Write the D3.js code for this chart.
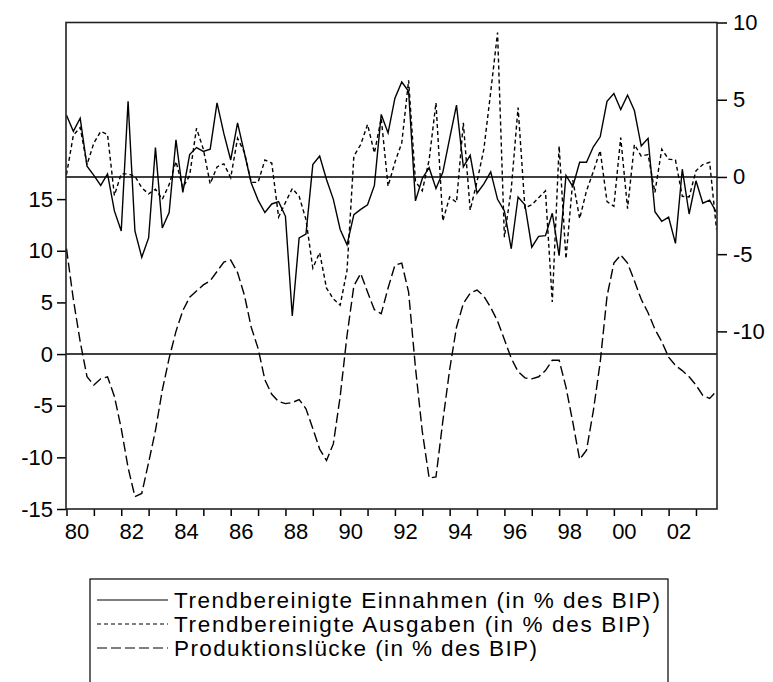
<!doctype html>
<html>
<head>
<meta charset="utf-8">
<title>Einnahmen, Ausgaben, Produktionsluecke</title>
<script src="https://cdn.jsdelivr.net/npm/d3@7/dist/d3.min.js"></script>
<style>
  body{margin:0;padding:0;background:#fff;}
  text{font-family:"Liberation Sans",Arial,sans-serif;fill:#000;}
</style>
</head>
<body>
<script>
// Quartalsdaten 1980Q1 - 2003Q4 (96 Beobachtungen)
var startJahr = 1980;

// Trendbereinigte Einnahmen (rechte Achse)
var einnahmen = [
  4.0, 2.95, 3.8, 0.7, 0.1, -0.55, 0.2, -2.2, -3.5, 4.9,
  -3.5, -5.2, -3.95, 1.9, -3.3, -2.3, 2.4, -1.0, 1.45, 1.9,
  1.65, 1.8, 4.8, 2.8, 1.1, 3.5, 1.55, -0.4, -1.5, -2.3,
  -1.75, -1.6, -2.55, -9.0, -3.95, -3.7, 0.8, 1.35, -0.17, -1.45,
  -3.4, -4.4, -2.44, -2.1, -1.8, -0.55, 4.05, 2.85, 5.1, 6.15,
  5.55, -1.55, -0.1, 0.6, -0.75, 0.3, 2.5, 4.65, 0.65, 1.4,
  -1.05, -0.45, 0.33, -1.45, -2.2, -4.65, -1.3, -1.8, -4.55, -3.85,
  -3.8, -2.35, -5.1, 0.1, -0.62, 0.95, 0.95, 1.95, 2.6, 4.9,
  5.4, 4.36, 5.3, 4.3, 2.0, 2.5, -2.25, -2.87, -2.6, -4.3,
  0.5, -2.4, -0.25, -1.7, -1.5, -2.3
];

// Trendbereinigte Ausgaben (rechte Achse)
var ausgaben = [
  0.15, 2.7, 3.2, 0.8, 2.2, 2.95, 2.75, -1.2, 0.2, 0.2,
  0.05, -0.7, -1.1, -0.8, -1.45, -0.5, 1.0, -0.7, 0.1, 3.15,
  1.8, -0.45, 0.65, 0.85, -0.05, 2.5, 1.6, -0.35, -0.35, 1.1,
  0.9, -2.6, -1.65, -0.75, -1.25, -2.76, -5.9, -4.9, -7.2, -7.9,
  -8.3, -6.05, 1.35, 2.1, 3.4, 1.55, 3.8, -0.6, 0.95, 2.2,
  6.25, -0.3, -0.9, 1.1, 4.8, -2.85, -1.3, -1.65, 3.5, -2.15,
  -0.3, 1.8, 5.5, 9.35, -3.9, -0.8, 4.5, -2.0, -1.8, -1.35,
  -0.9, -8.1, 2.0, -5.3, -0.2, -2.7, -0.9, 0.35, 1.7, -1.6,
  -1.9, 2.55, -2.05, 2.1, 1.35, 1.45, -1.0, 1.8, 1.15, 1.1,
  -1.25, -1.3, 0.4, 0.8, 0.95, -3.4
];

// Produktionsluecke (linke Achse)
var produktionsluecke = [
  10.2, 5.3, 1.2, -2.2, -3.0, -2.4, -2.2, -4.1, -7.2, -11.0,
  -13.8, -13.5, -10.5, -7.4, -3.5, -0.4, 2.2, 4.2, 5.5, 6.1,
  6.7, 7.1, 8.0, 8.9, 9.1, 7.9, 5.7, 2.6, 0.55, -2.5,
  -3.9, -4.6, -4.8, -4.7, -4.4, -5.3, -7.2, -9.2, -10.3, -8.7,
  -4.1, 1.8, 6.6, 7.8, 6.0, 4.3, 3.9, 6.4, 8.6, 8.8,
  6.0, -1.3, -7.5, -12.0, -11.9, -6.5, -1.5, 2.6, 4.9, 5.9,
  6.2, 5.6, 4.5, 3.2, 1.4, -0.4, -1.7, -2.3, -2.4, -2.2,
  -1.6, -0.6, -0.6, -3.2, -6.6, -10.2, -9.3, -5.5, -0.8, 5.6,
  8.8, 9.6, 8.8, 7.1, 5.3, 4.0, 2.4, 1.2, -0.3, -1.1,
  -1.6, -2.2, -3.0, -4.0, -4.3, -3.6
];

// Achsenbeschriftungen
var jahre = [1980,1981,1982,1983,1984,1985,1986,1987,1988,1989,1990,1991,
             1992,1993,1994,1995,1996,1997,1998,1999,2000,2001,2002,2003];
var jahrLabels = ["80","","82","","84","","86","","88","","90","",
                  "92","","94","","96","","98","","00","","02",""];
var linkeTicks = [-15,-10,-5,0,5,10,15];
var rechteTicks = [-10,-5,0,5,10];
var legendeTexte = ["Trendbereinigte Einnahmen (in % des BIP)",
                    "Trendbereinigte Ausgaben (in % des BIP)",
                    "Produktionslücke (in % des BIP)"];

var width = 773, height = 682;
var plot = {left: 66, right: 717, top: 22.5, bottom: 509};

var svg = d3.select("body").append("svg")
  .attr("width", width).attr("height", height);

var x = d3.scaleLinear().domain([0, einnahmen.length - 1]).range([plot.left + 0.5, plot.right - 0.5]);
var yL = d3.scaleLinear().domain([-15, 32.1]).range([plot.bottom, plot.top]);
var yR = d3.scaleLinear().domain([-21.5, 10]).range([plot.bottom, plot.top]);

// Achsen
var axL = svg.append("g").attr("transform", "translate(" + plot.left + ",0)")
  .call(d3.axisLeft(yL).tickValues(linkeTicks).tickSize(9).tickPadding(4).tickFormat(String));
var axR = svg.append("g").attr("transform", "translate(" + plot.right + ",0)")
  .call(d3.axisRight(yR).tickValues(rechteTicks).tickSize(10).tickPadding(6).tickFormat(String));
var axB = svg.append("g").attr("transform", "translate(0," + plot.bottom + ")")
  .call(d3.axisBottom(x).tickValues(jahre.map(function(j){ return (j - startJahr) * 4; }))
    .tickSize(7).tickPadding(7).tickFormat(function(d, i){ return jahrLabels[i]; }));

[axL, axR, axB].forEach(function(a){
  a.select(".domain").remove();
  a.selectAll(".tick line").attr("stroke", "#000").attr("stroke-width", 1.5);
  a.selectAll(".tick text").attr("font-size", "22px")
    .attr("font-family", "'Liberation Sans',Arial,sans-serif").attr("fill", "#000");
});
axB.selectAll(".tick text").attr("dx", 10);

// Nulllinien
svg.append("line").attr("x1", plot.left).attr("x2", plot.right)
  .attr("y1", yR(0)).attr("y2", yR(0)).attr("stroke", "#000").attr("stroke-width", 1.5);
svg.append("line").attr("x1", plot.left).attr("x2", plot.right)
  .attr("y1", yL(0)).attr("y2", yL(0)).attr("stroke", "#000").attr("stroke-width", 1.5);

// Linien
function linie(scale){
  return d3.line().x(function(d, i){ return x(i); }).y(function(d){ return scale(d); });
}
var stile = [
  {daten: einnahmen, skala: yR, dash: null},
  {daten: ausgaben, skala: yR, dash: "4,3"},
  {daten: produktionsluecke, skala: yL, dash: "10,4"}
];
stile.forEach(function(s){
  svg.append("path").datum(s.daten)
    .attr("d", linie(s.skala))
    .attr("fill", "none").attr("stroke", "#000").attr("stroke-width", 1.4)
    .attr("stroke-dasharray", s.dash);
});

// Rahmen
svg.append("rect").attr("x", plot.left).attr("y", plot.top)
  .attr("width", plot.right - plot.left).attr("height", plot.bottom - plot.top)
  .attr("fill", "none").attr("stroke", "#222").attr("stroke-width", 1.6);

// Legende
var leg = svg.append("g");
leg.append("rect").attr("x", 90).attr("y", 579).attr("width", 578).attr("height", 130)
  .attr("fill", "none").attr("stroke", "#000").attr("stroke-width", 1.2);
var legBreiten = [486, 476, 363];
legendeTexte.forEach(function(t, i){
  var yy = 600 + i * 24;
  leg.append("line").attr("x1", 97).attr("x2", 168).attr("y1", yy).attr("y2", yy)
    .attr("stroke", "#000").attr("stroke-width", 1.2).attr("stroke-dasharray", stile[i].dash);
  leg.append("text").attr("x", 174).attr("y", yy + 8)
    .attr("font-size", "22.5px").attr("textLength", legBreiten[i]).attr("lengthAdjust", "spacing")
    .text(t);
});
</script>
</body>
</html>
